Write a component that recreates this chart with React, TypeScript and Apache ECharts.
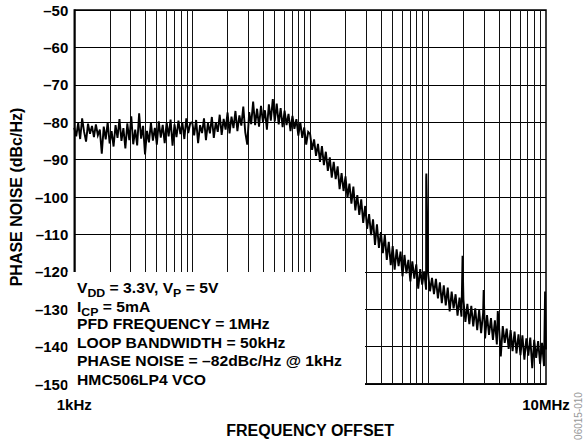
import React, { useEffect, useRef } from 'react';
import * as echarts from 'echarts';

const FONT = '"Liberation Sans", Arial, Helvetica, sans-serif';

// Frequency mantissas within one decade (log-spaced sampling)
const MANTISSA = [
  1.000, 1.039, 1.080, 1.122, 1.166, 1.212, 1.259, 1.308, 1.359, 1.413,
  1.468, 1.525, 1.585, 1.647, 1.711, 1.778, 1.848, 1.920, 1.995, 2.073,
  2.154, 2.239, 2.326, 2.417, 2.512, 2.610, 2.712, 2.818, 2.929, 3.043,
  3.162, 3.286, 3.415, 3.548, 3.687, 3.831, 3.981, 4.137, 4.299, 4.467,
  4.642, 4.823, 5.012, 5.208, 5.412, 5.623, 5.843, 6.072, 6.310, 6.556,
  6.813, 7.079, 7.356, 7.644, 7.943, 8.254, 8.577, 8.913, 9.261, 9.624,
];

// Decade start frequencies in kHz
const DECADES_KHZ = [1, 10, 100, 1000];

// Phase noise (dBc/Hz), one value per mantissa
const PN_1K_10K = [
  -81.5, -83.8, -80.2, -84.5, -79.0, -82.6, -85.2, -80.4, -83.1, -81.0,
  -84.0, -80.6, -83.5, -82.0, -88.4, -81.2, -84.6, -80.0, -85.7, -82.4,
  -86.5, -80.8, -84.2, -79.2, -85.0, -81.6, -87.0, -80.3, -84.8, -78.4,
  -85.9, -82.0, -86.2, -77.6, -84.4, -81.0, -88.6, -82.3, -85.4, -80.1,
  -84.9, -81.5, -86.0, -79.8, -84.1, -80.7, -85.6, -80.0, -83.8, -79.3,
  -86.3, -80.6, -84.0, -79.6, -83.2, -80.1, -84.5, -79.0, -82.9, -80.2,
];
const PN_10K_100K = [
  -80.0, -83.5, -79.4, -85.6, -80.8, -82.9, -79.0, -84.8, -80.2, -83.0,
  -78.6, -84.2, -80.0, -82.6, -78.0, -83.4, -79.1, -82.0, -77.4, -83.0,
  -78.5, -81.6, -77.0, -82.4, -78.2, -80.9, -75.8, -82.7, -86.0, -77.3,
  -80.5, -74.5, -80.8, -76.4, -81.2, -75.6, -80.0, -76.8, -82.0, -75.2,
  -79.6, -73.8, -79.8, -75.0, -80.6, -76.2, -81.3, -76.9, -80.8, -77.8,
  -82.4, -78.3, -81.8, -79.2, -83.6, -80.0, -84.2, -81.4, -86.0, -82.6,
];
const PN_100K_1M = [
  -83.2, -87.4, -84.6, -89.0, -85.8, -90.6, -86.4, -91.5, -87.9, -93.0,
  -89.4, -94.8, -90.6, -95.2, -91.8, -97.9, -93.6, -98.4, -94.5, -100.2,
  -96.4, -101.8, -97.2, -103.6, -99.5, -104.8, -100.6, -106.9, -102.4, -108.5,
  -104.6, -110.2, -106.0, -112.8, -107.3, -113.6, -109.4, -115.0, -110.2, -116.8,
  -112.0, -118.2, -113.1, -119.4, -114.0, -118.5, -114.6, -121.2, -115.5, -120.4,
  -116.8, -122.6, -117.2, -121.8, -118.0, -124.5, -119.3, -123.4, -119.9, -124.8,
];
const PN_1M_10M = [
  -120.4, -125.2, -121.6, -126.0, -121.9, -127.1, -122.8, -128.4, -123.6, -129.0,
  -124.2, -130.6, -125.3, -129.8, -126.0, -131.7, -126.9, -132.0, -127.4, -133.4,
  -128.6, -134.0, -129.1, -134.6, -129.8, -135.6, -130.2, -136.4, -131.0, -137.8,
  -131.6, -136.9, -132.4, -138.2, -133.0, -139.4, -133.8, -142.6, -134.5, -139.0,
  -135.2, -140.6, -135.6, -141.2, -136.0, -141.8, -136.7, -142.3, -137.0, -143.5,
  -137.8, -142.4, -137.6, -145.8, -138.2, -143.0, -138.5, -144.6, -139.0, -145.2,
];
const PN_DECADES = [PN_1K_10K, PN_10K_100K, PN_100K_1M, PN_1M_10M];

// Spurs and end point: [frequency kHz, dBc/Hz]
const SPURS = [
  [964, -95.0], [967, -93.7], [970, -95.5],
  [1960, -115.7], [2960, -124.9], [3900, -130.5], [9820, -125.3],
  [10000, -140.8],
];

// Log grid multiples
const GRID_MULTIPLES = [1, 2, 3, 4, 5, 6, 7, 8, 9];

const Y_MIN = -150;
const Y_MAX = -50;
const Y_STEP = 10;

const NOTE_LINES = [
  '{b|V}{s|DD}{b| = 3.3V, V}{s|P}{b| = 5V}',
  '{b|I}{s|CP}{b| = 5mA}',
  '{b|PFD FREQUENCY = 1MHz}',
  '{b|LOOP BANDWIDTH = 50kHz}',
  '{b|PHASE NOISE = \u201382dBc/Hz @ 1kHz}',
  '{b|HMC506LP4 VCO}',
];

export default function App() {
  const ref = useRef<HTMLDivElement>(null);

  useEffect(() => {
    const chart = echarts.init(ref.current!, null, { renderer: 'svg' });

    const points: number[][] = [];
    DECADES_KHZ.forEach((d, di) => {
      MANTISSA.forEach((m, i) => {
        points.push([m * d * 1000, PN_DECADES[di][i]]);
      });
    });
    SPURS.forEach(([f, v]) => points.push([f * 1000, v]));
    points.sort((a, b) => a[0] - b[0]);

    const gridFreqs: number[] = [];
    DECADES_KHZ.forEach((d) => {
      GRID_MULTIPLES.forEach((k) => {
        const f = d * k * 1000;
        if (f > 1000) gridFreqs.push(f);
      });
    });

    const rich = {
      b: {
        fontFamily: FONT,
        fontWeight: 'bold',
        fontSize: 14,
        lineHeight: 18,
        verticalAlign: 'bottom',
        padding: [0, 0, 3, 0],
        fill: '#000',
      },
      s: {
        fontFamily: FONT,
        fontWeight: 'bold',
        fontSize: 11,
        lineHeight: 18,
        verticalAlign: 'bottom',
        fill: '#000',
      },
    };

    const lineY = [289.5, 308.5, 325.5, 344.5, 362.5, 381];

    const graphic: any[] = [
      {
        type: 'rect',
        z: 50,
        silent: true,
        shape: { x: 67.5, y: 272, width: 297.5, height: 118.5 },
        style: { fill: '#fff' },
      },
      ...NOTE_LINES.map((t, i) => ({
        type: 'text',
        z: 60,
        silent: true,
        x: 77,
        y: lineY[i],
        scaleX: 1.12,
        style: {
          text: t,
          rich,
          fill: '#000',
          verticalAlign: 'middle',
          align: 'left',
        },
      })),
      {
        type: 'text',
        z: 60,
        silent: true,
        x: 578,
        y: 416,
        rotation: Math.PI / 2,
        style: {
          text: '06015-010',
          font: '10px ' + FONT,
          fill: '#999',
          align: 'center',
          verticalAlign: 'middle',
        },
      },
    ];

    const option: any = {
      animation: false,
      backgroundColor: '#fff',
      grid: {
        left: 66,
        top: 10,
        width: 480,
        height: 383,
        show: true,
        borderColor: '#000',
        borderWidth: 1.5,
        backgroundColor: 'transparent',
      },
      xAxis: {
        type: 'log',
        logBase: 10,
        min: 1000,
        max: 10000000,
        name: 'FREQUENCY OFFSET',
        nameLocation: 'middle',
        nameGap: 38,
        nameTextStyle: { fontFamily: FONT, fontWeight: 'bold', fontSize: 16, color: '#000' },
        axisLine: { show: true, lineStyle: { color: '#000', width: 1.5 } },
        axisTick: { show: false },
        splitLine: { show: false },
        axisLabel: {
          show: true,
          showMinLabel: true,
          showMaxLabel: true,
          margin: 13,
          fontFamily: FONT,
          fontWeight: 'bold',
          fontSize: 15,
          color: '#000',
          formatter: (v: number) => {
            const p = Math.log10(v);
            if (Math.abs(p - 3) < 1e-6) return '1kHz';
            if (Math.abs(p - 7) < 1e-6) return '10MHz';
            return '';
          },
        },
      },
      yAxis: {
        type: 'value',
        min: Y_MIN,
        max: Y_MAX,
        interval: Y_STEP,
        name: 'PHASE NOISE (dBc/Hz)',
        nameLocation: 'middle',
        nameRotate: 90,
        nameGap: 44,
        nameTextStyle: { fontFamily: FONT, fontWeight: 'bold', fontSize: 16, color: '#000' },
        axisLine: { show: true, lineStyle: { color: '#000', width: 1.5 } },
        axisTick: { show: false },
        splitLine: { show: true, lineStyle: { color: '#000', width: 1 } },
        axisLabel: {
          margin: 6,
          fontFamily: FONT,
          fontWeight: 'bold',
          fontSize: 15,
          color: '#000',
          formatter: (v: number) => String(v).replace('-', '\u2013'),
        },
      },
      series: [
        {
          type: 'line',
          data: points,
          showSymbol: false,
          symbol: 'none',
          lineStyle: { color: '#000', width: 1.9, join: 'miter' },
          z: 5,
          markLine: {
            silent: true,
            symbol: ['none', 'none'],
            label: { show: false },
            lineStyle: { color: '#111', width: 1, type: 'solid' },
            emphasis: { disabled: true },
            animation: false,
            data: gridFreqs.map((f) => ({ xAxis: f })),
            z: 1,
          },
        },
      ],
      graphic,
    };

    chart.setOption(option);
    return () => chart.dispose();
  }, []);

  return (
    <div
      ref={ref}
      style={{ position: 'fixed', left: 0, top: 0, width: 585, height: 443, background: '#fff' }}
    />
  );
}
